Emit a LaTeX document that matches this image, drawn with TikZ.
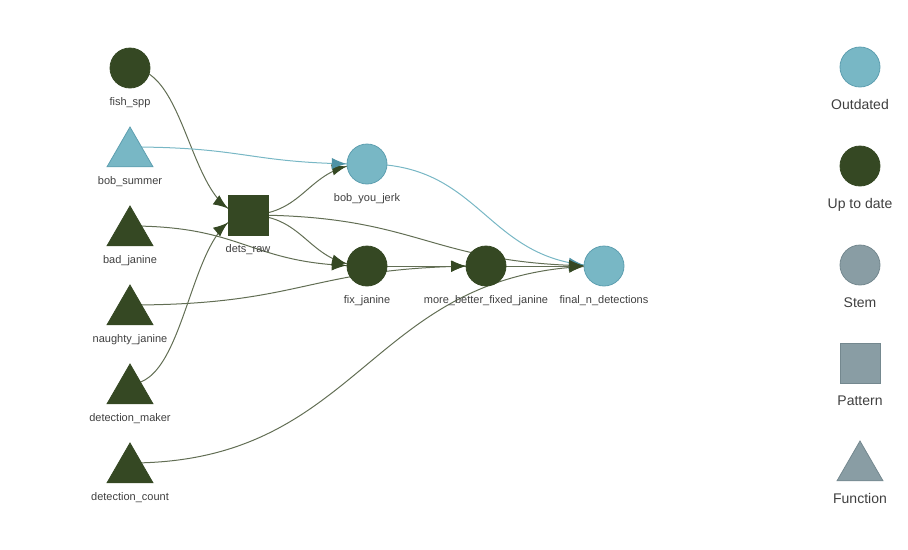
\documentclass[tikz,border=0pt]{standalone}
\usepackage{fontspec}
\setmainfont{Liberation Sans}
\usetikzlibrary{shapes.geometric,decorations.markings,arrows.meta,backgrounds}
\definecolor{outd}{HTML}{78B7C5}
\definecolor{outdb}{HTML}{5E9FB0}
\definecolor{upd}{HTML}{354823}
\definecolor{stem}{HTML}{899DA4}
\definecolor{stemb}{HTML}{74888F}
\definecolor{egreen}{RGB}{98,110,84}
\definecolor{eteal}{HTML}{78B7C5}
\definecolor{ateal}{HTML}{4F93A6}
\definecolor{labc}{HTML}{3F3F3F}
\begin{document}
\begin{tikzpicture}[x=0.75pt,y=-0.75pt,
  lab/.style={font=\fontsize{8.25pt}{9pt}\selectfont, text=labc, inner sep=0pt, text height=6pt, text depth=1.7pt},
  leglab/.style={font=\fontsize{10.5pt}{12pt}\selectfont, text=labc, inner sep=0pt, text height=7.6pt, text depth=2.1pt},
  nl/.style={label={[lab,label distance=6.6pt]below:#1}},
  ll/.style={label={[leglab,label distance=9pt]below:#1}},
  circ/.style={circle, minimum size=30pt, inner sep=0pt, line width=0.6pt},
  sq/.style={rectangle, minimum size=30pt, inner sep=0pt, line width=0.6pt},
  tri/.style={regular polygon, regular polygon sides=3, minimum size=39.84pt, inner sep=0pt, line width=0.6pt},
  upn/.style={fill=upd, draw=upd},
  outn/.style={fill=outd, draw=outdb},
  stemn/.style={fill=stem, draw=stemb},
  ge/.style={draw=egreen, line width=0.75pt, postaction={decorate, decoration={markings, mark=at position -#1 with {\arrow{Latex[length=11pt,width=8.5pt,color=upd]}}}}},
  ge/.default=15.4pt,
  te/.style={draw=eteal, line width=0.75pt, postaction={decorate, decoration={markings, mark=at position -#1 with {\arrow{Latex[length=11pt,width=8.5pt,color=ateal]}}}}},
  te/.default=15.4pt
]
\useasboundingbox (0,0) rectangle (908,550);
% left column
\node[circ,upn,nl={fish\_spp}] (fish) at (130,68) {};
\node[tri,outn,nl={bob\_summer}] (bsum) at (130,153.56) {};
\node[tri,upn,nl={bad\_janine}] (bad) at (130,232.56) {};
\node[tri,upn,nl={naughty\_janine}] (naughty) at (130,311.56) {};
\node[tri,upn,nl={detection\_maker}] (dmaker) at (130,390.56) {};
\node[tri,upn,nl={detection\_count}] (dcount) at (130,469.56) {};
% middle
\node[sq,upn,nl={dets\_raw}] (dr) at (248,215) {};
\node[circ,outn,nl={bob\_you\_jerk}] (byj) at (367,164) {};
\node[circ,upn,nl={fix\_janine}] (fix) at (367,266) {};
\node[circ,upn,nl={more\_better\_fixed\_janine}] (mbf) at (486,266) {};
\node[circ,outn,nl={final\_n\_detections}] (fin) at (604,266) {};
% legend
\node[circ,outn,ll={Outdated}] (lgout) at (860,67) {};
\node[circ,upn,ll={Up to date}] (lgup) at (860,166) {};
\node[circ,stemn,ll={Stem}] (lgstem) at (860,265) {};
\node[sq,stemn,ll={Pattern}] (lgpat) at (860,363) {};
\node[tri,stemn,ll={Function}] (lgfun) at (860,467.56) {};
% edges
\begin{pgfonlayer}{background}
\draw[te] (byj.center) .. controls +(118.5,0) and +(-118.5,0) .. (fin.center);
\draw[ge=16.1pt] (fish.center) .. controls +(59,0) and +(-59,0) .. (dr.center);
\draw[ge] (dr.center) .. controls +(59.5,0) and +(-59.5,0) .. (byj.center);
\draw[te] ([yshift=4.92pt]bsum.center) .. controls +(118.5,0) and +(-118.5,0) .. (byj.center);
\draw[ge] ([yshift=4.92pt]bad.center) .. controls +(118.5,0) and +(-118.5,0) .. (fix.center);
\draw[ge=15.2pt] ([yshift=4.92pt]naughty.center) .. controls +(178,0) and +(-178,0) .. (mbf.center);
\draw[ge=16.5pt] ([yshift=4.92pt]dmaker.center) .. controls +(59,0) and +(-59,0) .. (dr.center);
\draw[ge=15.2pt] ([yshift=4.92pt]dcount.center) .. controls +(237,0) and +(-237,0) .. (fin.center);
\draw[ge] (dr.center) .. controls +(59.5,0) and +(-59.5,0) .. (fix.center);
\draw[ge=15.2pt] (dr.center) .. controls +(178,0) and +(-178,0) .. (fin.center);
\draw[ge=15pt] (fix.center) -- (mbf.center);
\draw[ge=15pt] (mbf.center) -- (fin.center);
\end{pgfonlayer}
\end{tikzpicture}
\end{document}
